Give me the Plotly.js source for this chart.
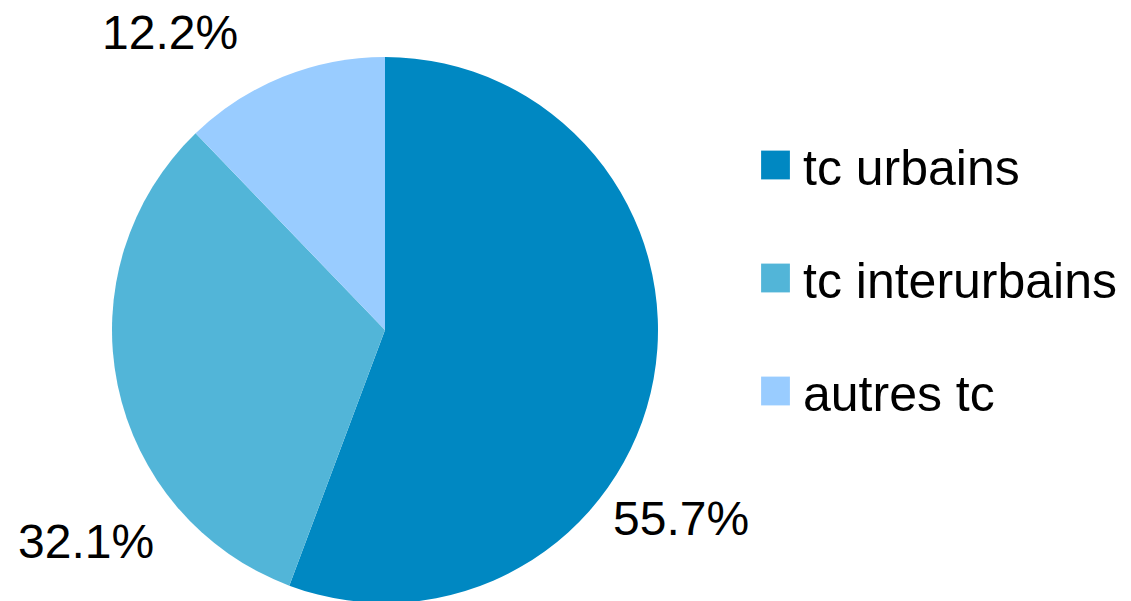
<!DOCTYPE html>
<html>
<head>
<meta charset="utf-8">
<script src="https://cdn.plot.ly/plotly-3.0.1.min.js"></script>
<style>
html, body { margin: 0; padding: 0; overflow: hidden; background: #fff; }
#chart { width: 1131px; height: 610px; }
</style>
</head>
<body>
<div id="chart"></div>
<script>
const categories = ["tc urbains", "tc interurbains", "autres tc"];
const shares = [55.7, 32.1, 12.2];
const sliceColors = ["#0088C2", "#52B5D8", "#99CCFF"];

// label anchor positions (page pixels, style only)
const labelAnchors = [[681, 518], [86, 541], [170, 32]];

const H = 610, W = 1131;
const FONT = "Liberation Sans, Arial, sans-serif";

const trace = {
  type: "pie",
  labels: categories,
  values: shares,
  sort: false,
  direction: "clockwise",
  rotation: 0,
  marker: { colors: sliceColors, line: { width: 0 } },
  textinfo: "none",
  hoverinfo: "label+percent",
  domain: { x: [112 / W, 658 / W], y: [7 / H, 553 / H] }
};

const annotations = shares.map(function (v, i) {
  return {
    xref: "paper", yref: "paper",
    x: labelAnchors[i][0] / W,
    y: 1 - labelAnchors[i][1] / H,
    xanchor: "center", yanchor: "middle",
    text: v.toFixed(1) + "%",
    showarrow: false,
    font: { family: FONT, size: 48, color: "#000" }
  };
});

const layout = {
  width: W,
  height: H,
  margin: { l: 0, r: 0, t: 0, b: 0 },
  paper_bgcolor: "#fff",
  showlegend: true,
  annotations: annotations,
  legend: {
    x: 763 / W,
    y: 1 - 126 / H,
    xanchor: "left",
    yanchor: "top",
    font: { family: FONT, size: 50, color: "#000" },
    bgcolor: "rgba(0,0,0,0)",
    traceorder: "normal"
  }
};

Plotly.newPlot("chart", [trace], layout, { displayModeBar: false, staticPlot: true }).then(function (gd) {
  const items = gd.querySelectorAll(".legend .traces");
  const spacing = 113;
  const m0 = /translate\(([-\d.]+),\s*([-\d.]+)\)/.exec(items[0].getAttribute("transform") || "");
  const y0First = m0 ? parseFloat(m0[2]) : 0;
  items.forEach(function (g, i) {
    const m = /translate\(([-\d.]+),\s*([-\d.]+)\)/.exec(g.getAttribute("transform") || "");
    const x0 = m ? parseFloat(m[1]) : 0;
    g.setAttribute("transform", "translate(" + x0 + "," + (y0First + i * spacing) + ")");
    g.querySelectorAll(".legendpoints path").forEach(function (p) {
      p.setAttribute("transform", "translate(12.5,0) scale(2.4)");
    });
  });
  gd.querySelectorAll(".legend [clip-path]").forEach(function (e) { e.removeAttribute("clip-path"); });
});
</script>
</body>
</html>
